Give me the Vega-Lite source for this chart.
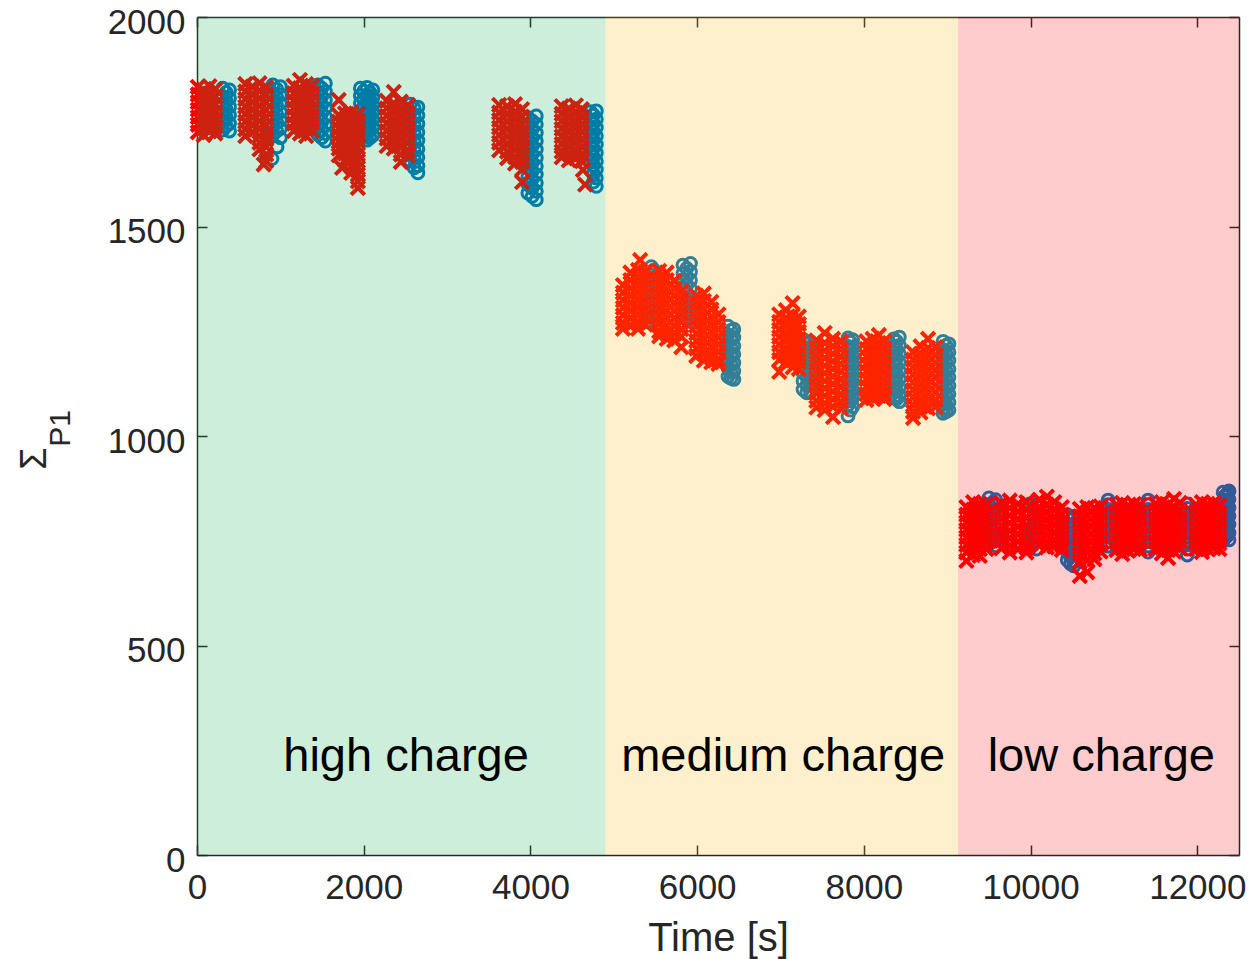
{
  "$schema": "https://vega.github.io/schema/vega-lite/v6.json",
  "width": 1042,
  "height": 838,
  "autosize": {"type": "none"},
  "padding": {"left": 197, "top": 17, "right": 14, "bottom": 104},
  "background": "#ffffff",
  "config": {
    "view": {"stroke": null},
    "font": "Liberation Sans",
    "axis": {
      "grid": false,
      "zindex": 1,
      "domainColor": "#262626",
      "domainWidth": 1.5,
      "tickColor": "#262626",
      "tickWidth": 1.5,
      "tickSize": -10,
      "labelFont": "Liberation Sans",
      "labelFontSize": 35,
      "labelColor": "#262626",
      "titleFont": "Liberation Sans",
      "titleFontSize": 40,
      "titleColor": "#262626",
      "titleFontWeight": "normal"
    }
  },
  "datasets": {
    "regions": [
      {"r": "high", "a": 0, "b": 4900},
      {"r": "medium", "a": 4900, "b": 9130},
      {"r": "low", "a": 9130, "b": 12500}
    ],
    "labels": [
      {"t": 2508, "v": 200, "label": "high charge"},
      {"t": 7032, "v": 200, "label": "medium charge"},
      {"t": 10848, "v": 200, "label": "low charge"}
    ],
    "pts": [
      {"s":"o","t":310,"v":1830},{"s":"o","t":310,"v":1810},{"s":"o","t":310,"v":1790},{"s":"o","t":310,"v":1770},{"s":"o","t":310,"v":1750},{"s":"o","t":310,"v":1730},
      {"s":"o","t":350,"v":1820},{"s":"o","t":350,"v":1800},{"s":"o","t":350,"v":1780},{"s":"o","t":350,"v":1760},{"s":"o","t":350,"v":1740},
      {"s":"o","t":390,"v":1826},{"s":"o","t":390,"v":1806},{"s":"o","t":390,"v":1786},{"s":"o","t":390,"v":1766},{"s":"o","t":390,"v":1746},{"s":"o","t":390,"v":1728},
      {"s":"x","t":10,"v":1833},{"s":"x","t":10,"v":1815},{"s":"x","t":10,"v":1797},{"s":"x","t":10,"v":1779},{"s":"x","t":10,"v":1761},{"s":"x","t":10,"v":1743},{"s":"x","t":10,"v":1725},
      {"s":"x","t":80,"v":1826},{"s":"x","t":80,"v":1808},{"s":"x","t":80,"v":1790},{"s":"x","t":80,"v":1772},{"s":"x","t":80,"v":1754},{"s":"x","t":80,"v":1736},{"s":"x","t":80,"v":1718},
      {"s":"x","t":150,"v":1835},{"s":"x","t":150,"v":1817},{"s":"x","t":150,"v":1799},{"s":"x","t":150,"v":1781},{"s":"x","t":150,"v":1763},{"s":"x","t":150,"v":1745},{"s":"x","t":150,"v":1727},
      {"s":"x","t":220,"v":1828},{"s":"x","t":220,"v":1810},{"s":"x","t":220,"v":1792},{"s":"x","t":220,"v":1774},{"s":"x","t":220,"v":1756},{"s":"x","t":220,"v":1738},{"s":"x","t":220,"v":1722},

      {"s":"o","t":900,"v":1662},{"s":"o","t":960,"v":1690},
      {"s":"o","t":910,"v":1838},{"s":"o","t":910,"v":1818},{"s":"o","t":910,"v":1798},{"s":"o","t":910,"v":1778},{"s":"o","t":910,"v":1758},{"s":"o","t":910,"v":1738},{"s":"o","t":910,"v":1718},
      {"s":"o","t":955,"v":1828},{"s":"o","t":955,"v":1808},{"s":"o","t":955,"v":1788},{"s":"o","t":955,"v":1768},{"s":"o","t":955,"v":1748},{"s":"o","t":955,"v":1728},
      {"s":"o","t":1000,"v":1834},{"s":"o","t":1000,"v":1814},{"s":"o","t":1000,"v":1794},{"s":"o","t":1000,"v":1774},{"s":"o","t":1000,"v":1754},{"s":"o","t":1000,"v":1734},{"s":"o","t":1000,"v":1712},
      {"s":"x","t":580,"v":1840},{"s":"x","t":580,"v":1822},{"s":"x","t":580,"v":1804},{"s":"x","t":580,"v":1786},{"s":"x","t":580,"v":1768},{"s":"x","t":580,"v":1750},{"s":"x","t":580,"v":1732},{"s":"x","t":580,"v":1716},
      {"s":"x","t":665,"v":1834},{"s":"x","t":665,"v":1816},{"s":"x","t":665,"v":1798},{"s":"x","t":665,"v":1780},{"s":"x","t":665,"v":1762},{"s":"x","t":665,"v":1744},{"s":"x","t":665,"v":1726},
      {"s":"x","t":750,"v":1842},{"s":"x","t":750,"v":1824},{"s":"x","t":750,"v":1806},{"s":"x","t":750,"v":1788},{"s":"x","t":750,"v":1770},{"s":"x","t":750,"v":1752},{"s":"x","t":750,"v":1734},{"s":"x","t":750,"v":1716},{"s":"x","t":750,"v":1700},{"s":"x","t":750,"v":1684},
      {"s":"x","t":830,"v":1832},{"s":"x","t":830,"v":1814},{"s":"x","t":830,"v":1796},{"s":"x","t":830,"v":1778},{"s":"x","t":830,"v":1760},{"s":"x","t":830,"v":1742},{"s":"x","t":830,"v":1724},{"s":"x","t":830,"v":1708},{"s":"x","t":830,"v":1690},{"s":"x","t":830,"v":1672},{"s":"x","t":830,"v":1656},
      {"s":"x","t":800,"v":1648},

      {"s":"o","t":1450,"v":1838},{"s":"o","t":1450,"v":1818},{"s":"o","t":1450,"v":1798},{"s":"o","t":1450,"v":1778},{"s":"o","t":1450,"v":1758},{"s":"o","t":1450,"v":1738},{"s":"o","t":1450,"v":1720},
      {"s":"o","t":1495,"v":1830},{"s":"o","t":1495,"v":1810},{"s":"o","t":1495,"v":1790},{"s":"o","t":1495,"v":1770},{"s":"o","t":1495,"v":1750},{"s":"o","t":1495,"v":1730},{"s":"o","t":1495,"v":1712},
      {"s":"o","t":1540,"v":1842},{"s":"o","t":1540,"v":1822},{"s":"o","t":1540,"v":1802},{"s":"o","t":1540,"v":1782},{"s":"o","t":1540,"v":1762},{"s":"o","t":1540,"v":1742},{"s":"o","t":1540,"v":1722},{"s":"o","t":1540,"v":1704},
      {"s":"x","t":1160,"v":1836},{"s":"x","t":1160,"v":1818},{"s":"x","t":1160,"v":1800},{"s":"x","t":1160,"v":1782},{"s":"x","t":1160,"v":1764},{"s":"x","t":1160,"v":1746},{"s":"x","t":1160,"v":1728},
      {"s":"x","t":1235,"v":1850},{"s":"x","t":1235,"v":1830},{"s":"x","t":1235,"v":1812},{"s":"x","t":1235,"v":1794},{"s":"x","t":1235,"v":1776},{"s":"x","t":1235,"v":1758},{"s":"x","t":1235,"v":1740},{"s":"x","t":1235,"v":1722},
      {"s":"x","t":1310,"v":1840},{"s":"x","t":1310,"v":1822},{"s":"x","t":1310,"v":1804},{"s":"x","t":1310,"v":1786},{"s":"x","t":1310,"v":1768},{"s":"x","t":1310,"v":1750},{"s":"x","t":1310,"v":1732},{"s":"x","t":1310,"v":1716},
      {"s":"x","t":1380,"v":1836},{"s":"x","t":1380,"v":1818},{"s":"x","t":1380,"v":1800},{"s":"x","t":1380,"v":1782},{"s":"x","t":1380,"v":1764},{"s":"x","t":1380,"v":1746},{"s":"x","t":1380,"v":1728},

      {"s":"o","t":1960,"v":1830},{"s":"o","t":1960,"v":1812},{"s":"o","t":1960,"v":1794},{"s":"o","t":1960,"v":1776},{"s":"o","t":1960,"v":1758},{"s":"o","t":1960,"v":1740},{"s":"o","t":1960,"v":1722},
      {"s":"o","t":2000,"v":1823},{"s":"o","t":2000,"v":1805},{"s":"o","t":2000,"v":1787},{"s":"o","t":2000,"v":1769},{"s":"o","t":2000,"v":1751},{"s":"o","t":2000,"v":1733},{"s":"o","t":2000,"v":1715},
      {"s":"o","t":2040,"v":1832},{"s":"o","t":2040,"v":1814},{"s":"o","t":2040,"v":1796},{"s":"o","t":2040,"v":1778},{"s":"o","t":2040,"v":1760},{"s":"o","t":2040,"v":1742},{"s":"o","t":2040,"v":1724},{"s":"o","t":2040,"v":1706},
      {"s":"o","t":2075,"v":1820},{"s":"o","t":2075,"v":1802},{"s":"o","t":2075,"v":1784},{"s":"o","t":2075,"v":1766},{"s":"o","t":2075,"v":1748},{"s":"o","t":2075,"v":1730},{"s":"o","t":2075,"v":1712},
      {"s":"o","t":2110,"v":1826},{"s":"o","t":2110,"v":1808},{"s":"o","t":2110,"v":1790},{"s":"o","t":2110,"v":1772},{"s":"o","t":2110,"v":1754},{"s":"o","t":2110,"v":1736},{"s":"o","t":2110,"v":1718},
      {"s":"x","t":1700,"v":1802},{"s":"x","t":1700,"v":1766},{"s":"x","t":1700,"v":1750},{"s":"x","t":1700,"v":1734},{"s":"x","t":1700,"v":1718},{"s":"x","t":1700,"v":1702},{"s":"x","t":1700,"v":1686},{"s":"x","t":1700,"v":1670},
      {"s":"x","t":1740,"v":1640},
      {"s":"x","t":1775,"v":1770},{"s":"x","t":1775,"v":1754},{"s":"x","t":1775,"v":1738},{"s":"x","t":1775,"v":1722},{"s":"x","t":1775,"v":1706},{"s":"x","t":1775,"v":1690},{"s":"x","t":1775,"v":1674},{"s":"x","t":1775,"v":1658},
      {"s":"x","t":1850,"v":1772},{"s":"x","t":1850,"v":1756},{"s":"x","t":1850,"v":1740},{"s":"x","t":1850,"v":1724},{"s":"x","t":1850,"v":1708},{"s":"x","t":1850,"v":1692},{"s":"x","t":1850,"v":1676},{"s":"x","t":1850,"v":1660},{"s":"x","t":1850,"v":1644},{"s":"x","t":1850,"v":1628},
      {"s":"x","t":1930,"v":1768},{"s":"x","t":1930,"v":1752},{"s":"x","t":1930,"v":1736},{"s":"x","t":1930,"v":1720},{"s":"x","t":1930,"v":1704},{"s":"x","t":1930,"v":1688},{"s":"x","t":1930,"v":1672},{"s":"x","t":1930,"v":1656},{"s":"x","t":1930,"v":1640},{"s":"x","t":1930,"v":1624},{"s":"x","t":1930,"v":1608},{"s":"x","t":1930,"v":1592},

      {"s":"o","t":2560,"v":1792},{"s":"o","t":2560,"v":1772},{"s":"o","t":2560,"v":1752},{"s":"o","t":2560,"v":1732},{"s":"o","t":2560,"v":1712},{"s":"o","t":2560,"v":1692},{"s":"o","t":2560,"v":1672},{"s":"o","t":2560,"v":1656},
      {"s":"o","t":2605,"v":1782},{"s":"o","t":2605,"v":1762},{"s":"o","t":2605,"v":1742},{"s":"o","t":2605,"v":1722},{"s":"o","t":2605,"v":1702},{"s":"o","t":2605,"v":1682},{"s":"o","t":2605,"v":1662},{"s":"o","t":2605,"v":1640},
      {"s":"o","t":2650,"v":1785},{"s":"o","t":2650,"v":1765},{"s":"o","t":2650,"v":1745},{"s":"o","t":2650,"v":1725},{"s":"o","t":2650,"v":1705},{"s":"o","t":2650,"v":1685},{"s":"o","t":2650,"v":1665},{"s":"o","t":2650,"v":1645},{"s":"o","t":2650,"v":1628},
      {"s":"x","t":2275,"v":1800},{"s":"x","t":2275,"v":1782},{"s":"x","t":2275,"v":1764},{"s":"x","t":2275,"v":1746},{"s":"x","t":2275,"v":1728},{"s":"x","t":2275,"v":1710},{"s":"x","t":2275,"v":1692},
      {"s":"x","t":2360,"v":1821},{"s":"x","t":2360,"v":1794},{"s":"x","t":2360,"v":1776},{"s":"x","t":2360,"v":1758},{"s":"x","t":2360,"v":1740},{"s":"x","t":2360,"v":1722},{"s":"x","t":2360,"v":1704},{"s":"x","t":2360,"v":1686},
      {"s":"x","t":2445,"v":1798},{"s":"x","t":2445,"v":1780},{"s":"x","t":2445,"v":1762},{"s":"x","t":2445,"v":1744},{"s":"x","t":2445,"v":1726},{"s":"x","t":2445,"v":1708},{"s":"x","t":2445,"v":1690},{"s":"x","t":2445,"v":1672},{"s":"x","t":2445,"v":1654},
      {"s":"x","t":2530,"v":1790},{"s":"x","t":2530,"v":1772},{"s":"x","t":2530,"v":1754},{"s":"x","t":2530,"v":1736},{"s":"x","t":2530,"v":1718},{"s":"x","t":2530,"v":1700},{"s":"x","t":2530,"v":1682},{"s":"x","t":2530,"v":1670},

      {"s":"o","t":3970,"v":1760},{"s":"o","t":3970,"v":1740},{"s":"o","t":3970,"v":1720},{"s":"o","t":3970,"v":1700},{"s":"o","t":3970,"v":1680},{"s":"o","t":3970,"v":1660},{"s":"o","t":3970,"v":1640},{"s":"o","t":3970,"v":1620},{"s":"o","t":3970,"v":1600},{"s":"o","t":3970,"v":1580},
      {"s":"o","t":4020,"v":1752},{"s":"o","t":4020,"v":1732},{"s":"o","t":4020,"v":1712},{"s":"o","t":4020,"v":1692},{"s":"o","t":4020,"v":1672},{"s":"o","t":4020,"v":1652},{"s":"o","t":4020,"v":1632},{"s":"o","t":4020,"v":1612},{"s":"o","t":4020,"v":1592},{"s":"o","t":4020,"v":1572},
      {"s":"o","t":4070,"v":1764},{"s":"o","t":4070,"v":1744},{"s":"o","t":4070,"v":1724},{"s":"o","t":4070,"v":1704},{"s":"o","t":4070,"v":1684},{"s":"o","t":4070,"v":1664},{"s":"o","t":4070,"v":1644},{"s":"o","t":4070,"v":1624},{"s":"o","t":4070,"v":1604},{"s":"o","t":4070,"v":1584},{"s":"o","t":4070,"v":1564},
      {"s":"x","t":3625,"v":1790},{"s":"x","t":3625,"v":1772},{"s":"x","t":3625,"v":1754},{"s":"x","t":3625,"v":1736},{"s":"x","t":3625,"v":1718},{"s":"x","t":3625,"v":1700},{"s":"x","t":3625,"v":1682},
      {"s":"x","t":3720,"v":1787},{"s":"x","t":3720,"v":1769},{"s":"x","t":3720,"v":1751},{"s":"x","t":3720,"v":1733},{"s":"x","t":3720,"v":1715},{"s":"x","t":3720,"v":1697},{"s":"x","t":3720,"v":1679},{"s":"x","t":3720,"v":1663},
      {"s":"x","t":3815,"v":1792},{"s":"x","t":3815,"v":1774},{"s":"x","t":3815,"v":1756},{"s":"x","t":3815,"v":1738},{"s":"x","t":3815,"v":1720},{"s":"x","t":3815,"v":1702},{"s":"x","t":3815,"v":1684},{"s":"x","t":3815,"v":1666},{"s":"x","t":3815,"v":1650},
      {"s":"x","t":3900,"v":1780},{"s":"x","t":3900,"v":1762},{"s":"x","t":3900,"v":1744},{"s":"x","t":3900,"v":1726},{"s":"x","t":3900,"v":1708},{"s":"x","t":3900,"v":1690},{"s":"x","t":3900,"v":1672},{"s":"x","t":3900,"v":1654},{"s":"x","t":3900,"v":1636},{"s":"x","t":3900,"v":1606},

      {"s":"o","t":4720,"v":1774},{"s":"o","t":4720,"v":1754},{"s":"o","t":4720,"v":1734},{"s":"o","t":4720,"v":1714},{"s":"o","t":4720,"v":1694},{"s":"o","t":4720,"v":1674},{"s":"o","t":4720,"v":1654},{"s":"o","t":4720,"v":1634},
      {"s":"o","t":4755,"v":1766},{"s":"o","t":4755,"v":1746},{"s":"o","t":4755,"v":1726},{"s":"o","t":4755,"v":1706},{"s":"o","t":4755,"v":1686},{"s":"o","t":4755,"v":1666},{"s":"o","t":4755,"v":1646},{"s":"o","t":4755,"v":1626},{"s":"o","t":4755,"v":1606},
      {"s":"o","t":4790,"v":1776},{"s":"o","t":4790,"v":1756},{"s":"o","t":4790,"v":1736},{"s":"o","t":4790,"v":1716},{"s":"o","t":4790,"v":1696},{"s":"o","t":4790,"v":1676},{"s":"o","t":4790,"v":1656},{"s":"o","t":4790,"v":1636},{"s":"o","t":4790,"v":1616},{"s":"o","t":4790,"v":1596},
      {"s":"x","t":4375,"v":1787},{"s":"x","t":4375,"v":1769},{"s":"x","t":4375,"v":1751},{"s":"x","t":4375,"v":1733},{"s":"x","t":4375,"v":1715},{"s":"x","t":4375,"v":1697},{"s":"x","t":4375,"v":1679},{"s":"x","t":4375,"v":1665},
      {"s":"x","t":4460,"v":1782},{"s":"x","t":4460,"v":1764},{"s":"x","t":4460,"v":1746},{"s":"x","t":4460,"v":1728},{"s":"x","t":4460,"v":1710},{"s":"x","t":4460,"v":1692},{"s":"x","t":4460,"v":1674},{"s":"x","t":4460,"v":1658},
      {"s":"x","t":4545,"v":1789},{"s":"x","t":4545,"v":1771},{"s":"x","t":4545,"v":1753},{"s":"x","t":4545,"v":1735},{"s":"x","t":4545,"v":1717},{"s":"x","t":4545,"v":1699},{"s":"x","t":4545,"v":1681},{"s":"x","t":4545,"v":1663},
      {"s":"x","t":4615,"v":1780},{"s":"x","t":4615,"v":1762},{"s":"x","t":4615,"v":1744},{"s":"x","t":4615,"v":1726},{"s":"x","t":4615,"v":1708},{"s":"x","t":4615,"v":1690},{"s":"x","t":4615,"v":1672},{"s":"x","t":4615,"v":1656},
      {"s":"x","t":4630,"v":1635},{"s":"x","t":4656,"v":1600},

      {"s":"o","t":5450,"v":1404},{"s":"o","t":5450,"v":1384},{"s":"o","t":5450,"v":1364},{"s":"o","t":5450,"v":1344},{"s":"o","t":5450,"v":1324},{"s":"o","t":5450,"v":1304},{"s":"o","t":5450,"v":1284},{"s":"o","t":5450,"v":1274},
      {"s":"o","t":5480,"v":1396},{"s":"o","t":5480,"v":1376},{"s":"o","t":5480,"v":1356},{"s":"o","t":5480,"v":1336},{"s":"o","t":5480,"v":1316},{"s":"o","t":5480,"v":1296},{"s":"o","t":5480,"v":1280},
      {"s":"o","t":5412,"v":1272},
      {"s":"x","t":5110,"v":1360},{"s":"x","t":5110,"v":1342},{"s":"x","t":5110,"v":1324},{"s":"x","t":5110,"v":1306},{"s":"x","t":5110,"v":1288},{"s":"x","t":5110,"v":1270},{"s":"x","t":5110,"v":1256},
      {"s":"x","t":5200,"v":1390},{"s":"x","t":5200,"v":1372},{"s":"x","t":5200,"v":1354},{"s":"x","t":5200,"v":1336},{"s":"x","t":5200,"v":1318},{"s":"x","t":5200,"v":1300},{"s":"x","t":5200,"v":1282},{"s":"x","t":5200,"v":1264},
      {"s":"x","t":5290,"v":1396},{"s":"x","t":5290,"v":1378},{"s":"x","t":5290,"v":1360},{"s":"x","t":5290,"v":1342},{"s":"x","t":5290,"v":1324},{"s":"x","t":5290,"v":1306},{"s":"x","t":5290,"v":1288},{"s":"x","t":5290,"v":1270},{"s":"x","t":5290,"v":1256},
      {"s":"x","t":5380,"v":1392},{"s":"x","t":5380,"v":1374},{"s":"x","t":5380,"v":1356},{"s":"x","t":5380,"v":1338},{"s":"x","t":5380,"v":1320},{"s":"x","t":5380,"v":1302},{"s":"x","t":5380,"v":1284},{"s":"x","t":5380,"v":1266},
      {"s":"x","t":5316,"v":1420},

      {"s":"o","t":5830,"v":1408},{"s":"o","t":5830,"v":1388},{"s":"o","t":5830,"v":1368},{"s":"o","t":5830,"v":1348},{"s":"o","t":5830,"v":1328},{"s":"o","t":5830,"v":1308},{"s":"o","t":5830,"v":1288},{"s":"o","t":5830,"v":1270},
      {"s":"o","t":5875,"v":1400},{"s":"o","t":5875,"v":1380},{"s":"o","t":5875,"v":1360},{"s":"o","t":5875,"v":1340},{"s":"o","t":5875,"v":1320},{"s":"o","t":5875,"v":1300},{"s":"o","t":5875,"v":1280},
      {"s":"o","t":5920,"v":1412},{"s":"o","t":5920,"v":1392},{"s":"o","t":5920,"v":1372},{"s":"o","t":5920,"v":1352},{"s":"o","t":5920,"v":1332},{"s":"o","t":5920,"v":1312},{"s":"o","t":5920,"v":1292},{"s":"o","t":5920,"v":1274},
      {"s":"x","t":5545,"v":1394},{"s":"x","t":5545,"v":1376},{"s":"x","t":5545,"v":1358},{"s":"x","t":5545,"v":1340},{"s":"x","t":5545,"v":1322},{"s":"x","t":5545,"v":1304},{"s":"x","t":5545,"v":1286},{"s":"x","t":5545,"v":1268},{"s":"x","t":5545,"v":1250},{"s":"x","t":5545,"v":1238},
      {"s":"x","t":5635,"v":1390},{"s":"x","t":5635,"v":1372},{"s":"x","t":5635,"v":1354},{"s":"x","t":5635,"v":1336},{"s":"x","t":5635,"v":1318},{"s":"x","t":5635,"v":1300},{"s":"x","t":5635,"v":1282},{"s":"x","t":5635,"v":1264},{"s":"x","t":5635,"v":1246},{"s":"x","t":5635,"v":1232},
      {"s":"x","t":5725,"v":1370},{"s":"x","t":5725,"v":1352},{"s":"x","t":5725,"v":1334},{"s":"x","t":5725,"v":1316},{"s":"x","t":5725,"v":1298},{"s":"x","t":5725,"v":1280},{"s":"x","t":5725,"v":1262},{"s":"x","t":5725,"v":1244},{"s":"x","t":5725,"v":1228},
      {"s":"x","t":5810,"v":1345},{"s":"x","t":5810,"v":1327},{"s":"x","t":5810,"v":1309},{"s":"x","t":5810,"v":1291},{"s":"x","t":5810,"v":1273},{"s":"x","t":5810,"v":1255},{"s":"x","t":5810,"v":1237},{"s":"x","t":5810,"v":1212},

      {"s":"o","t":6370,"v":1262},{"s":"o","t":6370,"v":1242},{"s":"o","t":6370,"v":1222},{"s":"o","t":6370,"v":1202},{"s":"o","t":6370,"v":1182},{"s":"o","t":6370,"v":1162},{"s":"o","t":6370,"v":1142},
      {"s":"o","t":6405,"v":1252},{"s":"o","t":6405,"v":1232},{"s":"o","t":6405,"v":1212},{"s":"o","t":6405,"v":1192},{"s":"o","t":6405,"v":1172},{"s":"o","t":6405,"v":1152},{"s":"o","t":6405,"v":1138},
      {"s":"o","t":6440,"v":1255},{"s":"o","t":6440,"v":1235},{"s":"o","t":6440,"v":1215},{"s":"o","t":6440,"v":1195},{"s":"o","t":6440,"v":1175},{"s":"o","t":6440,"v":1155},{"s":"o","t":6440,"v":1135},
      {"s":"x","t":5990,"v":1335},{"s":"x","t":5990,"v":1317},{"s":"x","t":5990,"v":1299},{"s":"x","t":5990,"v":1281},{"s":"x","t":5990,"v":1263},{"s":"x","t":5990,"v":1245},{"s":"x","t":5990,"v":1227},{"s":"x","t":5990,"v":1209},{"s":"x","t":5990,"v":1191},
      {"s":"x","t":6080,"v":1340},{"s":"x","t":6080,"v":1322},{"s":"x","t":6080,"v":1304},{"s":"x","t":6080,"v":1286},{"s":"x","t":6080,"v":1268},{"s":"x","t":6080,"v":1250},{"s":"x","t":6080,"v":1232},{"s":"x","t":6080,"v":1214},{"s":"x","t":6080,"v":1196},{"s":"x","t":6080,"v":1180},
      {"s":"x","t":6170,"v":1320},{"s":"x","t":6170,"v":1302},{"s":"x","t":6170,"v":1284},{"s":"x","t":6170,"v":1266},{"s":"x","t":6170,"v":1248},{"s":"x","t":6170,"v":1230},{"s":"x","t":6170,"v":1212},{"s":"x","t":6170,"v":1194},{"s":"x","t":6170,"v":1176},
      {"s":"x","t":6255,"v":1290},{"s":"x","t":6255,"v":1272},{"s":"x","t":6255,"v":1254},{"s":"x","t":6255,"v":1236},{"s":"x","t":6255,"v":1218},{"s":"x","t":6255,"v":1200},{"s":"x","t":6255,"v":1182},{"s":"x","t":6255,"v":1172},

      {"s":"o","t":7270,"v":1231},{"s":"o","t":7270,"v":1211},{"s":"o","t":7270,"v":1191},{"s":"o","t":7270,"v":1171},{"s":"o","t":7270,"v":1151},{"s":"o","t":7270,"v":1131},{"s":"o","t":7270,"v":1111},
      {"s":"o","t":7315,"v":1221},{"s":"o","t":7315,"v":1201},{"s":"o","t":7315,"v":1181},{"s":"o","t":7315,"v":1161},{"s":"o","t":7315,"v":1141},{"s":"o","t":7315,"v":1121},{"s":"o","t":7315,"v":1103},
      {"s":"o","t":7360,"v":1225},{"s":"o","t":7360,"v":1205},{"s":"o","t":7360,"v":1185},{"s":"o","t":7360,"v":1165},{"s":"o","t":7360,"v":1145},{"s":"o","t":7360,"v":1125},{"s":"o","t":7360,"v":1105},
      {"s":"x","t":6985,"v":1290},{"s":"x","t":6985,"v":1272},{"s":"x","t":6985,"v":1254},{"s":"x","t":6985,"v":1236},{"s":"x","t":6985,"v":1218},{"s":"x","t":6985,"v":1200},{"s":"x","t":6985,"v":1182},{"s":"x","t":6985,"v":1153},
      {"s":"x","t":7065,"v":1300},{"s":"x","t":7065,"v":1282},{"s":"x","t":7065,"v":1264},{"s":"x","t":7065,"v":1246},{"s":"x","t":7065,"v":1228},{"s":"x","t":7065,"v":1210},{"s":"x","t":7065,"v":1192},{"s":"x","t":7065,"v":1176},
      {"s":"x","t":7145,"v":1317},{"s":"x","t":7145,"v":1288},{"s":"x","t":7145,"v":1270},{"s":"x","t":7145,"v":1252},{"s":"x","t":7145,"v":1234},{"s":"x","t":7145,"v":1216},{"s":"x","t":7145,"v":1198},{"s":"x","t":7145,"v":1180},{"s":"x","t":7145,"v":1164},
      {"s":"x","t":7220,"v":1285},{"s":"x","t":7220,"v":1267},{"s":"x","t":7220,"v":1249},{"s":"x","t":7220,"v":1231},{"s":"x","t":7220,"v":1213},{"s":"x","t":7220,"v":1195},{"s":"x","t":7220,"v":1177},{"s":"x","t":7220,"v":1160},

      {"s":"o","t":7810,"v":1234},{"s":"o","t":7810,"v":1214},{"s":"o","t":7810,"v":1194},{"s":"o","t":7810,"v":1174},{"s":"o","t":7810,"v":1154},{"s":"o","t":7810,"v":1134},{"s":"o","t":7810,"v":1114},{"s":"o","t":7810,"v":1094},{"s":"o","t":7810,"v":1074},{"s":"o","t":7810,"v":1048},
      {"s":"o","t":7840,"v":1224},{"s":"o","t":7840,"v":1204},{"s":"o","t":7840,"v":1184},{"s":"o","t":7840,"v":1164},{"s":"o","t":7840,"v":1144},{"s":"o","t":7840,"v":1124},{"s":"o","t":7840,"v":1104},{"s":"o","t":7840,"v":1084},{"s":"o","t":7840,"v":1062},
      {"s":"o","t":7865,"v":1230},{"s":"o","t":7865,"v":1210},{"s":"o","t":7865,"v":1190},{"s":"o","t":7865,"v":1170},{"s":"o","t":7865,"v":1150},{"s":"o","t":7865,"v":1130},{"s":"o","t":7865,"v":1110},{"s":"o","t":7865,"v":1090},{"s":"o","t":7865,"v":1070},
      {"s":"x","t":7430,"v":1228},{"s":"x","t":7430,"v":1210},{"s":"x","t":7430,"v":1192},{"s":"x","t":7430,"v":1174},{"s":"x","t":7430,"v":1156},{"s":"x","t":7430,"v":1138},{"s":"x","t":7430,"v":1120},{"s":"x","t":7430,"v":1102},{"s":"x","t":7430,"v":1084},{"s":"x","t":7430,"v":1068},
      {"s":"x","t":7530,"v":1246},{"s":"x","t":7530,"v":1222},{"s":"x","t":7530,"v":1204},{"s":"x","t":7530,"v":1186},{"s":"x","t":7530,"v":1168},{"s":"x","t":7530,"v":1150},{"s":"x","t":7530,"v":1132},{"s":"x","t":7530,"v":1114},{"s":"x","t":7530,"v":1096},{"s":"x","t":7530,"v":1078},{"s":"x","t":7530,"v":1062},
      {"s":"x","t":7630,"v":1232},{"s":"x","t":7630,"v":1214},{"s":"x","t":7630,"v":1196},{"s":"x","t":7630,"v":1178},{"s":"x","t":7630,"v":1160},{"s":"x","t":7630,"v":1142},{"s":"x","t":7630,"v":1124},{"s":"x","t":7630,"v":1106},{"s":"x","t":7630,"v":1088},{"s":"x","t":7630,"v":1070},{"s":"x","t":7630,"v":1045},
      {"s":"x","t":7725,"v":1226},{"s":"x","t":7725,"v":1208},{"s":"x","t":7725,"v":1190},{"s":"x","t":7725,"v":1172},{"s":"x","t":7725,"v":1154},{"s":"x","t":7725,"v":1136},{"s":"x","t":7725,"v":1118},{"s":"x","t":7725,"v":1100},{"s":"x","t":7725,"v":1082},{"s":"x","t":7725,"v":1066},

      {"s":"o","t":8360,"v":1232},{"s":"o","t":8360,"v":1212},{"s":"o","t":8360,"v":1192},{"s":"o","t":8360,"v":1172},{"s":"o","t":8360,"v":1152},{"s":"o","t":8360,"v":1132},{"s":"o","t":8360,"v":1112},{"s":"o","t":8360,"v":1092},
      {"s":"o","t":8392,"v":1226},{"s":"o","t":8392,"v":1206},{"s":"o","t":8392,"v":1186},{"s":"o","t":8392,"v":1166},{"s":"o","t":8392,"v":1146},{"s":"o","t":8392,"v":1126},{"s":"o","t":8392,"v":1106},{"s":"o","t":8392,"v":1088},
      {"s":"o","t":8425,"v":1236},{"s":"o","t":8425,"v":1216},{"s":"o","t":8425,"v":1196},{"s":"o","t":8425,"v":1176},{"s":"o","t":8425,"v":1156},{"s":"o","t":8425,"v":1136},{"s":"o","t":8425,"v":1116},{"s":"o","t":8425,"v":1096},{"s":"o","t":8425,"v":1082},
      {"s":"x","t":8030,"v":1226},{"s":"x","t":8030,"v":1208},{"s":"x","t":8030,"v":1190},{"s":"x","t":8030,"v":1172},{"s":"x","t":8030,"v":1154},{"s":"x","t":8030,"v":1136},{"s":"x","t":8030,"v":1118},{"s":"x","t":8030,"v":1100},{"s":"x","t":8030,"v":1086},
      {"s":"x","t":8105,"v":1232},{"s":"x","t":8105,"v":1214},{"s":"x","t":8105,"v":1196},{"s":"x","t":8105,"v":1178},{"s":"x","t":8105,"v":1160},{"s":"x","t":8105,"v":1142},{"s":"x","t":8105,"v":1124},{"s":"x","t":8105,"v":1106},{"s":"x","t":8105,"v":1090},
      {"s":"x","t":8180,"v":1241},{"s":"x","t":8180,"v":1222},{"s":"x","t":8180,"v":1204},{"s":"x","t":8180,"v":1186},{"s":"x","t":8180,"v":1168},{"s":"x","t":8180,"v":1150},{"s":"x","t":8180,"v":1132},{"s":"x","t":8180,"v":1114},{"s":"x","t":8180,"v":1096},
      {"s":"x","t":8245,"v":1226},{"s":"x","t":8245,"v":1208},{"s":"x","t":8245,"v":1190},{"s":"x","t":8245,"v":1172},{"s":"x","t":8245,"v":1154},{"s":"x","t":8245,"v":1136},{"s":"x","t":8245,"v":1118},{"s":"x","t":8245,"v":1100},{"s":"x","t":8245,"v":1088},

      {"s":"o","t":8950,"v":1226},{"s":"o","t":8950,"v":1206},{"s":"o","t":8950,"v":1186},{"s":"o","t":8950,"v":1166},{"s":"o","t":8950,"v":1146},{"s":"o","t":8950,"v":1126},{"s":"o","t":8950,"v":1106},{"s":"o","t":8950,"v":1086},{"s":"o","t":8950,"v":1066},{"s":"o","t":8950,"v":1054},
      {"s":"o","t":8985,"v":1216},{"s":"o","t":8985,"v":1196},{"s":"o","t":8985,"v":1176},{"s":"o","t":8985,"v":1156},{"s":"o","t":8985,"v":1136},{"s":"o","t":8985,"v":1116},{"s":"o","t":8985,"v":1096},{"s":"o","t":8985,"v":1076},{"s":"o","t":8985,"v":1058},
      {"s":"o","t":9020,"v":1220},{"s":"o","t":9020,"v":1200},{"s":"o","t":9020,"v":1180},{"s":"o","t":9020,"v":1160},{"s":"o","t":9020,"v":1140},{"s":"o","t":9020,"v":1120},{"s":"o","t":9020,"v":1100},{"s":"o","t":9020,"v":1080},{"s":"o","t":9020,"v":1062},
      {"s":"x","t":8590,"v":1200},{"s":"x","t":8590,"v":1182},{"s":"x","t":8590,"v":1164},{"s":"x","t":8590,"v":1146},{"s":"x","t":8590,"v":1128},{"s":"x","t":8590,"v":1110},{"s":"x","t":8590,"v":1092},{"s":"x","t":8590,"v":1074},{"s":"x","t":8590,"v":1058},{"s":"x","t":8590,"v":1043},
      {"s":"x","t":8680,"v":1214},{"s":"x","t":8680,"v":1196},{"s":"x","t":8680,"v":1178},{"s":"x","t":8680,"v":1160},{"s":"x","t":8680,"v":1142},{"s":"x","t":8680,"v":1124},{"s":"x","t":8680,"v":1106},{"s":"x","t":8680,"v":1088},{"s":"x","t":8680,"v":1070},{"s":"x","t":8680,"v":1056},
      {"s":"x","t":8770,"v":1232},{"s":"x","t":8770,"v":1210},{"s":"x","t":8770,"v":1192},{"s":"x","t":8770,"v":1174},{"s":"x","t":8770,"v":1156},{"s":"x","t":8770,"v":1138},{"s":"x","t":8770,"v":1120},{"s":"x","t":8770,"v":1102},{"s":"x","t":8770,"v":1084},{"s":"x","t":8770,"v":1066},
      {"s":"x","t":8860,"v":1212},{"s":"x","t":8860,"v":1194},{"s":"x","t":8860,"v":1176},{"s":"x","t":8860,"v":1158},{"s":"x","t":8860,"v":1140},{"s":"x","t":8860,"v":1122},{"s":"x","t":8860,"v":1104},{"s":"x","t":8860,"v":1086},{"s":"x","t":8860,"v":1070},

      {"s":"o","t":9500,"v":852},{"s":"o","t":9500,"v":830},{"s":"o","t":9500,"v":808},{"s":"o","t":9500,"v":786},{"s":"o","t":9500,"v":764},{"s":"o","t":9500,"v":742},
      {"s":"o","t":9540,"v":840},{"s":"o","t":9540,"v":818},{"s":"o","t":9540,"v":796},{"s":"o","t":9540,"v":774},{"s":"o","t":9540,"v":752},
      {"s":"o","t":9580,"v":848},{"s":"o","t":9580,"v":826},{"s":"o","t":9580,"v":804},{"s":"o","t":9580,"v":782},{"s":"o","t":9580,"v":760},{"s":"o","t":9580,"v":738},
      {"s":"x","t":9230,"v":830},{"s":"x","t":9230,"v":812},{"s":"x","t":9230,"v":794},{"s":"x","t":9230,"v":776},{"s":"x","t":9230,"v":758},{"s":"x","t":9230,"v":740},{"s":"x","t":9230,"v":722},{"s":"x","t":9230,"v":702},
      {"s":"x","t":9310,"v":842},{"s":"x","t":9310,"v":824},{"s":"x","t":9310,"v":806},{"s":"x","t":9310,"v":788},{"s":"x","t":9310,"v":770},{"s":"x","t":9310,"v":752},{"s":"x","t":9310,"v":734},{"s":"x","t":9310,"v":716},
      {"s":"x","t":9390,"v":838},{"s":"x","t":9390,"v":820},{"s":"x","t":9390,"v":802},{"s":"x","t":9390,"v":784},{"s":"x","t":9390,"v":766},{"s":"x","t":9390,"v":748},{"s":"x","t":9390,"v":730},{"s":"x","t":9390,"v":714},
      {"s":"x","t":9470,"v":836},{"s":"x","t":9470,"v":818},{"s":"x","t":9470,"v":800},{"s":"x","t":9470,"v":782},{"s":"x","t":9470,"v":764},{"s":"x","t":9470,"v":746},{"s":"x","t":9470,"v":730},

      {"s":"o","t":9990,"v":838},{"s":"o","t":9990,"v":816},{"s":"o","t":9990,"v":794},{"s":"o","t":9990,"v":772},{"s":"o","t":9990,"v":750},{"s":"o","t":9990,"v":732},
      {"s":"o","t":10030,"v":826},{"s":"o","t":10030,"v":804},{"s":"o","t":10030,"v":782},{"s":"o","t":10030,"v":760},{"s":"o","t":10030,"v":740},
      {"s":"o","t":10070,"v":836},{"s":"o","t":10070,"v":814},{"s":"o","t":10070,"v":792},{"s":"o","t":10070,"v":770},{"s":"o","t":10070,"v":748},{"s":"o","t":10070,"v":730},
      {"s":"x","t":9650,"v":840},{"s":"x","t":9650,"v":822},{"s":"x","t":9650,"v":804},{"s":"x","t":9650,"v":786},{"s":"x","t":9650,"v":768},{"s":"x","t":9650,"v":750},{"s":"x","t":9650,"v":732},
      {"s":"x","t":9750,"v":846},{"s":"x","t":9750,"v":828},{"s":"x","t":9750,"v":810},{"s":"x","t":9750,"v":792},{"s":"x","t":9750,"v":774},{"s":"x","t":9750,"v":756},{"s":"x","t":9750,"v":738},{"s":"x","t":9750,"v":722},
      {"s":"x","t":9850,"v":838},{"s":"x","t":9850,"v":820},{"s":"x","t":9850,"v":802},{"s":"x","t":9850,"v":784},{"s":"x","t":9850,"v":766},{"s":"x","t":9850,"v":748},{"s":"x","t":9850,"v":730},
      {"s":"x","t":9950,"v":842},{"s":"x","t":9950,"v":824},{"s":"x","t":9950,"v":806},{"s":"x","t":9950,"v":788},{"s":"x","t":9950,"v":770},{"s":"x","t":9950,"v":752},{"s":"x","t":9950,"v":734},{"s":"x","t":9950,"v":722},

      {"s":"o","t":10440,"v":812},{"s":"o","t":10440,"v":790},{"s":"o","t":10440,"v":768},{"s":"o","t":10440,"v":746},{"s":"o","t":10440,"v":724},{"s":"o","t":10440,"v":704},
      {"s":"o","t":10480,"v":800},{"s":"o","t":10480,"v":778},{"s":"o","t":10480,"v":756},{"s":"o","t":10480,"v":734},{"s":"o","t":10480,"v":712},{"s":"o","t":10480,"v":695},
      {"s":"o","t":10520,"v":808},{"s":"o","t":10520,"v":786},{"s":"o","t":10520,"v":764},{"s":"o","t":10520,"v":742},{"s":"o","t":10520,"v":720},{"s":"o","t":10520,"v":700},{"s":"o","t":10520,"v":690},
      {"s":"x","t":10105,"v":848},{"s":"x","t":10105,"v":830},{"s":"x","t":10105,"v":812},{"s":"x","t":10105,"v":794},{"s":"x","t":10105,"v":776},{"s":"x","t":10105,"v":758},{"s":"x","t":10105,"v":740},
      {"s":"x","t":10195,"v":855},{"s":"x","t":10195,"v":836},{"s":"x","t":10195,"v":818},{"s":"x","t":10195,"v":800},{"s":"x","t":10195,"v":782},{"s":"x","t":10195,"v":764},{"s":"x","t":10195,"v":746},{"s":"x","t":10195,"v":734},
      {"s":"x","t":10285,"v":842},{"s":"x","t":10285,"v":824},{"s":"x","t":10285,"v":806},{"s":"x","t":10285,"v":788},{"s":"x","t":10285,"v":770},{"s":"x","t":10285,"v":752},{"s":"x","t":10285,"v":736},
      {"s":"x","t":10375,"v":830},{"s":"x","t":10375,"v":812},{"s":"x","t":10375,"v":794},{"s":"x","t":10375,"v":776},{"s":"x","t":10375,"v":758},{"s":"x","t":10375,"v":740},{"s":"x","t":10375,"v":728},

      {"s":"o","t":10930,"v":847},{"s":"o","t":10930,"v":836},{"s":"o","t":10930,"v":825},{"s":"o","t":10930,"v":814},{"s":"o","t":10930,"v":803},{"s":"o","t":10930,"v":792},{"s":"o","t":10930,"v":781},{"s":"o","t":10930,"v":770},{"s":"o","t":10930,"v":759},{"s":"o","t":10930,"v":748},{"s":"o","t":10930,"v":737},
      {"s":"x","t":10590,"v":826},{"s":"x","t":10590,"v":808},{"s":"x","t":10590,"v":790},{"s":"x","t":10590,"v":772},{"s":"x","t":10590,"v":754},{"s":"x","t":10590,"v":736},{"s":"x","t":10590,"v":718},{"s":"x","t":10590,"v":700},{"s":"x","t":10590,"v":666},
      {"s":"x","t":10680,"v":830},{"s":"x","t":10680,"v":812},{"s":"x","t":10680,"v":794},{"s":"x","t":10680,"v":776},{"s":"x","t":10680,"v":758},{"s":"x","t":10680,"v":740},{"s":"x","t":10680,"v":722},{"s":"x","t":10680,"v":704},{"s":"x","t":10680,"v":675},
      {"s":"x","t":10765,"v":828},{"s":"x","t":10765,"v":810},{"s":"x","t":10765,"v":792},{"s":"x","t":10765,"v":774},{"s":"x","t":10765,"v":756},{"s":"x","t":10765,"v":738},{"s":"x","t":10765,"v":720},{"s":"x","t":10765,"v":706},
      {"s":"x","t":10840,"v":832},{"s":"x","t":10840,"v":814},{"s":"x","t":10840,"v":796},{"s":"x","t":10840,"v":778},{"s":"x","t":10840,"v":760},{"s":"x","t":10840,"v":742},{"s":"x","t":10840,"v":724},

      {"s":"o","t":11410,"v":847},{"s":"o","t":11410,"v":836},{"s":"o","t":11410,"v":825},{"s":"o","t":11410,"v":814},{"s":"o","t":11410,"v":803},{"s":"o","t":11410,"v":792},{"s":"o","t":11410,"v":781},{"s":"o","t":11410,"v":770},{"s":"o","t":11410,"v":759},{"s":"o","t":11410,"v":748},{"s":"o","t":11410,"v":737},{"s":"o","t":11410,"v":723},
      {"s":"x","t":11030,"v":836},{"s":"x","t":11030,"v":818},{"s":"x","t":11030,"v":800},{"s":"x","t":11030,"v":782},{"s":"x","t":11030,"v":764},{"s":"x","t":11030,"v":746},{"s":"x","t":11030,"v":728},
      {"s":"x","t":11100,"v":840},{"s":"x","t":11100,"v":822},{"s":"x","t":11100,"v":804},{"s":"x","t":11100,"v":786},{"s":"x","t":11100,"v":768},{"s":"x","t":11100,"v":750},{"s":"x","t":11100,"v":732},{"s":"x","t":11100,"v":718},
      {"s":"x","t":11170,"v":834},{"s":"x","t":11170,"v":816},{"s":"x","t":11170,"v":798},{"s":"x","t":11170,"v":780},{"s":"x","t":11170,"v":762},{"s":"x","t":11170,"v":744},{"s":"x","t":11170,"v":726},
      {"s":"x","t":11240,"v":838},{"s":"x","t":11240,"v":820},{"s":"x","t":11240,"v":802},{"s":"x","t":11240,"v":784},{"s":"x","t":11240,"v":766},{"s":"x","t":11240,"v":748},{"s":"x","t":11240,"v":730},
      {"s":"x","t":11310,"v":836},{"s":"x","t":11310,"v":818},{"s":"x","t":11310,"v":800},{"s":"x","t":11310,"v":782},{"s":"x","t":11310,"v":764},{"s":"x","t":11310,"v":746},{"s":"x","t":11310,"v":728},

      {"s":"o","t":11880,"v":838},{"s":"o","t":11880,"v":827},{"s":"o","t":11880,"v":816},{"s":"o","t":11880,"v":805},{"s":"o","t":11880,"v":794},{"s":"o","t":11880,"v":783},{"s":"o","t":11880,"v":772},{"s":"o","t":11880,"v":761},{"s":"o","t":11880,"v":750},{"s":"o","t":11880,"v":740},{"s":"o","t":11880,"v":730},{"s":"o","t":11880,"v":716},
      {"s":"x","t":11500,"v":838},{"s":"x","t":11500,"v":820},{"s":"x","t":11500,"v":802},{"s":"x","t":11500,"v":784},{"s":"x","t":11500,"v":766},{"s":"x","t":11500,"v":748},{"s":"x","t":11500,"v":730},
      {"s":"x","t":11575,"v":842},{"s":"x","t":11575,"v":824},{"s":"x","t":11575,"v":806},{"s":"x","t":11575,"v":788},{"s":"x","t":11575,"v":770},{"s":"x","t":11575,"v":752},{"s":"x","t":11575,"v":734},{"s":"x","t":11575,"v":720},
      {"s":"x","t":11650,"v":836},{"s":"x","t":11650,"v":818},{"s":"x","t":11650,"v":800},{"s":"x","t":11650,"v":782},{"s":"x","t":11650,"v":764},{"s":"x","t":11650,"v":746},{"s":"x","t":11650,"v":728},{"s":"x","t":11650,"v":709},
      {"s":"x","t":11720,"v":850},{"s":"x","t":11720,"v":830},{"s":"x","t":11720,"v":812},{"s":"x","t":11720,"v":794},{"s":"x","t":11720,"v":776},{"s":"x","t":11720,"v":758},{"s":"x","t":11720,"v":740},{"s":"x","t":11720,"v":724},
      {"s":"x","t":11790,"v":840},{"s":"x","t":11790,"v":822},{"s":"x","t":11790,"v":804},{"s":"x","t":11790,"v":786},{"s":"x","t":11790,"v":768},{"s":"x","t":11790,"v":750},{"s":"x","t":11790,"v":732},

      {"s":"o","t":12310,"v":866},{"s":"o","t":12310,"v":846},{"s":"o","t":12310,"v":826},{"s":"o","t":12310,"v":806},{"s":"o","t":12310,"v":786},{"s":"o","t":12310,"v":766},{"s":"o","t":12310,"v":750},
      {"s":"o","t":12330,"v":856},{"s":"o","t":12330,"v":836},{"s":"o","t":12330,"v":816},{"s":"o","t":12330,"v":796},{"s":"o","t":12330,"v":776},{"s":"o","t":12330,"v":758},
      {"s":"o","t":12350,"v":860},{"s":"o","t":12350,"v":840},{"s":"o","t":12350,"v":820},{"s":"o","t":12350,"v":800},{"s":"o","t":12350,"v":780},{"s":"o","t":12350,"v":760},
      {"s":"o","t":12365,"v":864},{"s":"o","t":12365,"v":844},{"s":"o","t":12365,"v":824},{"s":"o","t":12365,"v":804},{"s":"o","t":12365,"v":784},{"s":"o","t":12365,"v":764},
      {"s":"o","t":12380,"v":869},{"s":"o","t":12380,"v":849},{"s":"o","t":12380,"v":829},{"s":"o","t":12380,"v":809},{"s":"o","t":12380,"v":789},{"s":"o","t":12380,"v":769},{"s":"o","t":12380,"v":752},
      {"s":"x","t":11985,"v":836},{"s":"x","t":11985,"v":818},{"s":"x","t":11985,"v":800},{"s":"x","t":11985,"v":782},{"s":"x","t":11985,"v":764},{"s":"x","t":11985,"v":746},{"s":"x","t":11985,"v":730},
      {"s":"x","t":12055,"v":842},{"s":"x","t":12055,"v":824},{"s":"x","t":12055,"v":806},{"s":"x","t":12055,"v":788},{"s":"x","t":12055,"v":770},{"s":"x","t":12055,"v":752},{"s":"x","t":12055,"v":734},{"s":"x","t":12055,"v":723},
      {"s":"x","t":12125,"v":838},{"s":"x","t":12125,"v":820},{"s":"x","t":12125,"v":802},{"s":"x","t":12125,"v":784},{"s":"x","t":12125,"v":766},{"s":"x","t":12125,"v":748},{"s":"x","t":12125,"v":730},
      {"s":"x","t":12195,"v":840},{"s":"x","t":12195,"v":822},{"s":"x","t":12195,"v":804},{"s":"x","t":12195,"v":786},{"s":"x","t":12195,"v":768},{"s":"x","t":12195,"v":750},{"s":"x","t":12195,"v":732},
      {"s":"x","t":12265,"v":834},{"s":"x","t":12265,"v":816},{"s":"x","t":12265,"v":798},{"s":"x","t":12265,"v":780},{"s":"x","t":12265,"v":762},{"s":"x","t":12265,"v":744},{"s":"x","t":12265,"v":730}
    ]
  },
  "layer": [
    {
      "data": {"name": "pts"},
      "mark": {"type": "point", "filled": false, "opacity": 1, "clip": false},
      "encoding": {
        "x": {
          "field": "t", "type": "quantitative",
          "scale": {"domain": [0, 12500], "nice": false, "zero": false},
          "axis": {"orient": "bottom", "values": [0, 2000, 4000, 6000, 8000, 10000, 12000], "format": "d", "labelPadding": 25, "labelFlush": false, "title": "Time [s]", "titleY": 95, "titleBaseline": "alphabetic"}
        },
        "y": {
          "field": "v", "type": "quantitative",
          "scale": {"domain": [0, 2000], "nice": false},
          "axis": {"orient": "left", "values": [0, 500, 1000, 1500, 2000], "format": "d", "labelPadding": 22, "labelOffset": 5, "title": "Σ", "titleFontSize": 36, "titleAngle": 270, "titleAlign": "center", "titleBaseline": "middle", "titleX": -163, "titleY": 441}
        },
        "shape": {"field": "s", "type": "nominal", "scale": {"domain": ["o", "x"], "range": ["circle", "M-1,-1L1,1M-1,1L1,-1"]}, "legend": null},
        "color": {"field": "s", "type": "nominal", "scale": {"domain": ["o", "x"], "range": ["#0072BD", "#FF0000"]}, "legend": null},
        "size": {"field": "s", "type": "nominal", "scale": {"domain": ["o", "x"], "range": [140, 185]}, "legend": null},
        "strokeWidth": {"field": "s", "type": "nominal", "scale": {"domain": ["o", "x"], "range": [3, 4]}, "legend": null}
      }
    },
    {
      "data": {"name": "regions"},
      "mark": {"type": "rect", "opacity": 0.2},
      "encoding": {
        "x": {"field": "a", "type": "quantitative", "axis": null},
        "x2": {"field": "b"},
        "y": {"datum": 0, "type": "quantitative", "axis": null},
        "y2": {"datum": 2000},
        "fill": {"field": "r", "type": "nominal", "scale": {"domain": ["high", "medium", "low"], "range": ["#00AB4B", "#FAB400", "#FA0000"]}, "legend": null}
      }
    },
    {
      "data": {"name": "labels"},
      "mark": {"type": "text", "font": "Liberation Sans", "fontSize": 47, "color": "#000000", "align": "center", "baseline": "alphabetic"},
      "encoding": {
        "x": {"field": "t", "type": "quantitative", "axis": null},
        "y": {"field": "v", "type": "quantitative", "axis": null},
        "text": {"field": "label"}
      }
    },
    {
      "data": {"name": "labels"},
      "mark": {"type": "point", "opacity": 0},
      "encoding": {
        "x": {"field": "t", "type": "quantitative", "axis": {"orient": "top", "labels": false, "title": null, "values": [0, 2000, 4000, 6000, 8000, 10000, 12000]}},
        "y": {"field": "v", "type": "quantitative", "axis": {"orient": "right", "labels": false, "title": null, "values": [0, 500, 1000, 1500, 2000]}}
      }
    },
    {
      "data": {"name": "labels"},
      "mark": {"type": "point", "opacity": 0},
      "encoding": {
        "y": {"field": "v", "type": "quantitative", "axis": {"orient": "left", "labels": false, "ticks": false, "domain": false, "title": "P1", "titleFontSize": 30, "titleAngle": 270, "titleAlign": "center", "titleBaseline": "middle", "titleX": -137, "titleY": 411}}
      }
    }
  ],
  "resolve": {"scale": {"color": "independent", "fill": "independent"}, "axis": {"x": "independent", "y": "independent"}}
}
